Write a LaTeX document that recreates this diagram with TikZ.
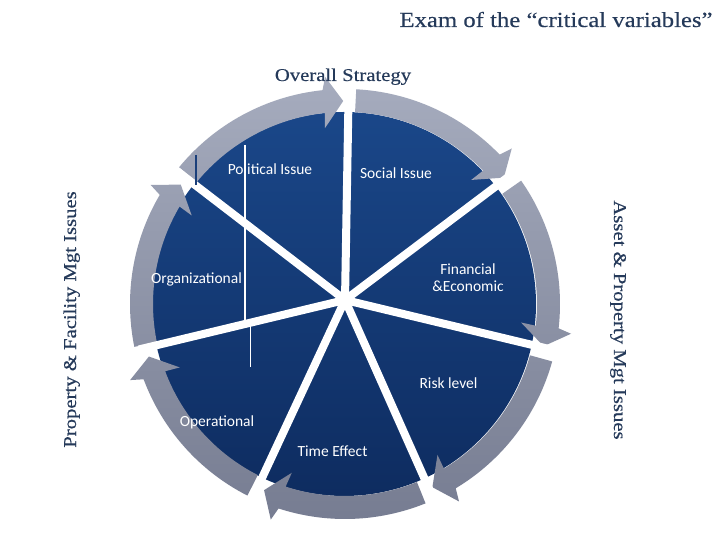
\documentclass[tikz,border=0pt]{standalone}
\usepackage{fontspec}
\newfontfamily\headfont[FakeStretch=1.15,FakeBold=0.35]{Liberation Serif}
\newfontfamily\lblfont{Carlito}
\definecolor{headcol}{HTML}{253A5A}
\definecolor{bluetop}{HTML}{1A4789}
\definecolor{bluebot}{HTML}{0E2C60}
\definecolor{graytop}{HTML}{A6ACBE}
\definecolor{graybot}{HTML}{767C91}
\definecolor{darkline}{HTML}{1A3F7A}
\begin{document}
\begin{tikzpicture}[x=1pt,y=1pt,
  lbl/.style={text=white, font=\lblfont\fontsize{15.5}{18}\selectfont, inner sep=0pt, anchor=base},
  headtxt/.style={text=headcol, font=\headfont\fontsize{18}{22}\selectfont, inner sep=0pt, anchor=base},
  spokeline/.style={draw=white, line width=8pt},
  hairline/.style={draw=white, line width=1.3pt}]
\useasboundingbox[fill=white] (0,0) rectangle (720,540);

% blue disc
\shade[top color=bluetop, bottom color=bluebot] (344,236) circle[radius=192];

% ring of circular arrows
\begin{scope}[shift={(345,236)}]
\shade[top color=graytop, bottom color=graybot]
  foreach \s/\t in {142.5/89, 89/37, 37/-13.5, -13.5/-66, -66/-115, -115/-166.5, 193.5/142.5}
  { ({\s-2}:215) arc[start angle={\s-2}, end angle={\t+7}, radius=215]
    -- ({\t+6}:228) -- ({\t+1.5}:203) -- ({\t+7.5}:177)
    -- ({\t+7}:192) arc[start angle={\t+7}, end angle={\s-2}, radius=192] -- cycle };
\end{scope}

% spokes
\coordinate (hub) at (345,240);
\begin{scope}[shift={(hub)}]
  \coordinate (e1) at (89:212);
  \coordinate (e2) at (37:212);
  \coordinate (e3) at (-13.5:212);
  \coordinate (e4) at (-66:212);
  \coordinate (e5) at (-115:212);
  \coordinate (e6) at (-166.5:212);
  \coordinate (e7) at (142.5:212);
\end{scope}
\foreach \e in {e1,e2,e3,e4,e5,e6,e7} \draw[spokeline] (hub) -- (\e);

% thin stray lines
\coordinate (h1) at (245,395);
\coordinate (h2) at (245,216);
\coordinate (h3) at (250.5,216);
\coordinate (h4) at (250.5,173);
\draw[hairline] (h1) -- (h2);
\draw[hairline] (h3) -- (h4);
\coordinate (d1) at (196,385);
\coordinate (d2) at (196,355);
\draw[draw=darkline, line width=1.3pt] (d1) -- (d2);

% segment labels
\node[lbl] (pol) at (270,365) {Political Issue};
\node[lbl] (soc) at (396,361) {Social Issue};
\node[lbl] (fin) at (468,265) {Financial};
\node[lbl] (eco) at (468,248) {\&Economic};
\node[lbl] (org) at (196.5,256) {Organizational};
\node[lbl] (risk) at (448.5,151) {Risk level};
\node[lbl] (ope) at (217,113) {Operational};
\node[lbl] (time) at (332.5,83) {Time Effect};

% headings
\node[headtxt, font=\headfont\fontsize{21.5}{26}\selectfont] (title) at (556,513) {Exam of the “critical variables”};
\node[headtxt] (overall) at (343,459) {Overall Strategy};
\node[headtxt, rotate=90] (left) at (76,220.5) {Property \& Facility Mgt Issues};
\node[headtxt, rotate=-90] (right) at (614,220) {Asset \& Property Mgt Issues};
\end{tikzpicture}
\end{document}
